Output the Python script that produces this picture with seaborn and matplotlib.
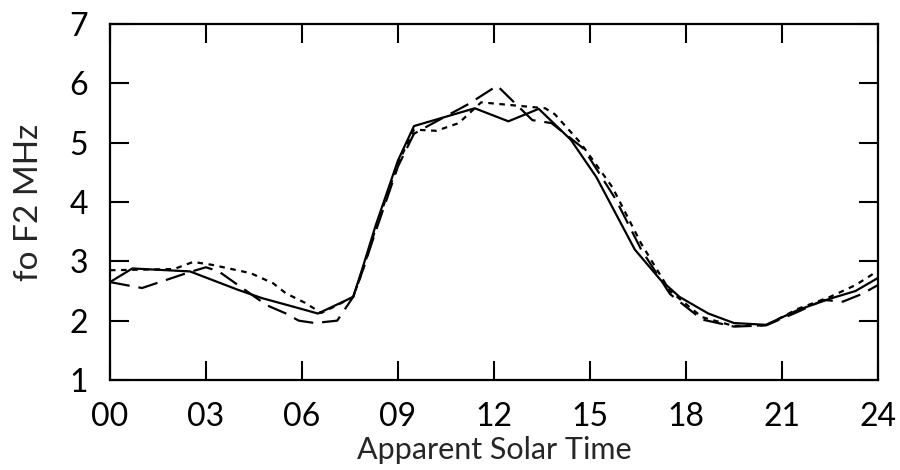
import matplotlib
matplotlib.use("Agg")
import matplotlib.pyplot as plt
import seaborn as sns
import pandas as pd

# --- data ---
solid_x = [0, 0.7, 2.5, 4.0, 4.75, 5.7, 6.5, 7.6, 7.9, 8.3, 9.0, 9.5, 11.4, 12.45, 13.4, 14.4, 15.2, 16.4, 17.2, 17.8, 18.7, 19.5, 20.5, 21.5, 22.5, 23.3, 24]
solid_y = [2.65, 2.88, 2.83, 2.52, 2.38, 2.24, 2.12, 2.4, 2.9, 3.6, 4.7, 5.28, 5.58, 5.36, 5.57, 5.05, 4.42, 3.2, 2.69, 2.4, 2.12, 1.96, 1.93, 2.18, 2.37, 2.5, 2.72]

dotted_x = [0, 2.0, 2.6, 3.2, 4.4, 5.1, 5.5, 6.1, 6.6, 7.1, 7.6, 7.9, 8.3, 9.0, 9.5, 10.2, 10.9, 11.6, 12.6, 13.6, 13.9, 14.7, 15.7, 16.6, 17.5, 18.5, 19.5, 20.5, 21.5, 22.5, 23.3, 24]
dotted_y = [2.85, 2.87, 2.99, 2.94, 2.8, 2.63, 2.46, 2.3, 2.13, 2.26, 2.4, 2.85, 3.55, 4.65, 5.22, 5.2, 5.33, 5.68, 5.63, 5.58, 5.48, 5.0, 4.25, 3.3, 2.5, 2.06, 1.91, 1.92, 2.2, 2.4, 2.6, 2.84]

dashed_x = [0, 1.0, 2.5, 3.0, 3.4, 4.0, 4.9, 5.5, 5.9, 6.4, 7.1, 7.6, 7.9, 8.3, 9.0, 9.5, 10.0, 11.2, 12.1, 12.8, 13.2, 13.8, 14.8, 15.8, 16.6, 17.5, 18.5, 19.5, 20.5, 21.5, 22.3, 22.9, 23.5, 24]
dashed_y = [2.65, 2.55, 2.82, 2.9, 2.83, 2.6, 2.26, 2.12, 2.0, 1.96, 2.0, 2.4, 2.85, 3.5, 4.6, 5.15, 5.3, 5.65, 5.96, 5.59, 5.38, 5.33, 4.9, 4.05, 3.2, 2.45, 2.02, 1.9, 1.92, 2.15, 2.35, 2.32, 2.45, 2.6]

x_ticks = [0, 3, 6, 9, 12, 15, 18, 21, 24]
x_tick_labels = ["00", "03", "06", "09", "12", "15", "18", "21", "24"]
y_ticks = [1, 2, 3, 4, 5, 6, 7]
y_tick_labels = ["1", "2", "3", "4", "5", "6", "7"]

sns.set_theme(style="ticks")
plt.rcParams["font.family"] = ["Lato", "DejaVu Sans"]

fig = plt.figure(figsize=(9, 4.7), dpi=100)
ax = fig.add_axes([0.1222, 0.1915, 0.8533, 0.7574])

kw = dict(color="black", linewidth=1.6, sort=False, estimator=None, ax=ax)
sns.lineplot(x=solid_x, y=solid_y, linestyle="-", **kw)
sns.lineplot(x=dashed_x, y=dashed_y, **kw).lines[-1].set_dashes([9, 4])
sns.lineplot(x=dotted_x, y=dotted_y, **kw).lines[-1].set_dashes([2.5, 2.5])

ax.set_xlim(0, 24)
ax.set_ylim(1, 7)
ax.set_xticks(x_ticks)
ax.set_xticklabels(x_tick_labels)
ax.set_yticks(y_ticks)
ax.set_yticklabels(y_tick_labels)
ax.tick_params(axis="both", direction="in", length=14, width=1.5,
               labelsize=23, colors="black", top=True, right=True)
ax.tick_params(axis="x", pad=16)
ax.tick_params(axis="y", pad=16)
for s in ax.spines.values():
    s.set_visible(True)
    s.set_linewidth(1.6)
    s.set_color("black")

ax.set_xlabel("Apparent Solar Time", fontsize=22, labelpad=3)
ax.set_ylabel("fo F2 MHz", fontsize=24, labelpad=18)
ax.grid(False)

fig.savefig("out.png", dpi=100, facecolor="white")
